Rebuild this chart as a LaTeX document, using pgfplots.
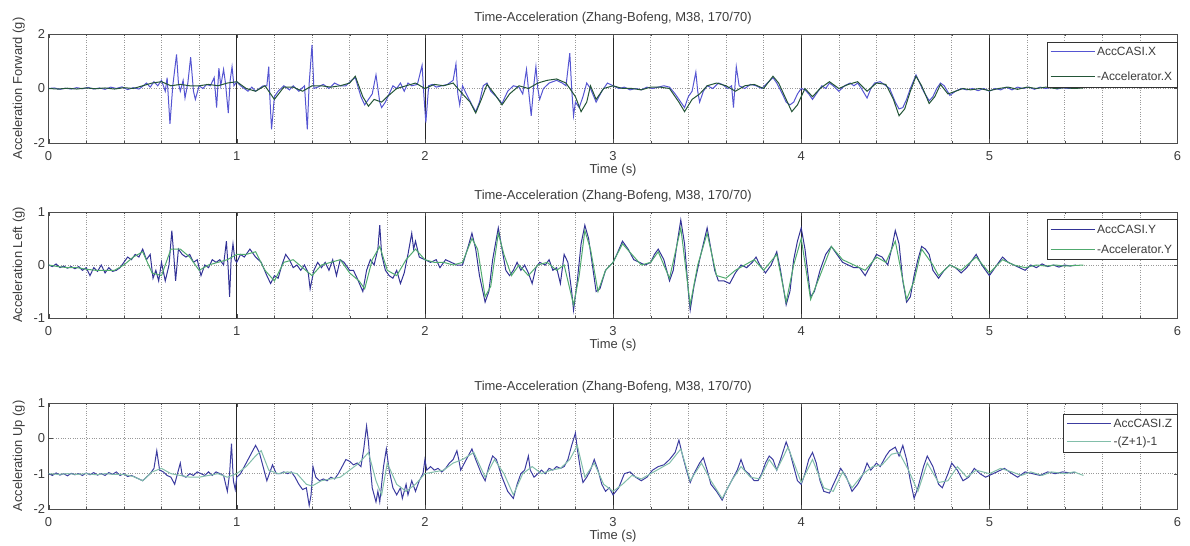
\documentclass[border=0pt]{standalone}
\usepackage{fontspec}
\setmainfont{Liberation Sans}
\usepackage{pgfplots}
\pgfplotsset{compat=1.18}

\definecolor{txt}{RGB}{60,60,60}
\definecolor{bluea}{RGB}{85,85,210}
\definecolor{greena}{RGB}{35,85,55}
\definecolor{blueb}{RGB}{50,50,150}
\definecolor{greenb}{RGB}{80,170,110}
\definecolor{bluec}{RGB}{60,60,160}
\definecolor{greenc}{RGB}{130,190,170}

\pgfplotsset{
  panel/.style={
    scale only axis,
    width=1129bp, height=107bp,
    anchor=north west,
    xmin=0, xmax=6,
    xtick={0,1,2,3,4,5,6},
    minor x tick num=4,
    grid=both,
    major x grid style={black!85, line width=0.6bp},
    minor x grid style={black!40, dotted, line width=0.6bp},
    major y grid style={black!40, dotted, line width=0.6bp},
    axis line style={black!70, line width=0.8bp},
    tick style={black!70},
    tick align=inside,
    major tick length=4bp, minor tick length=2bp,
    font=\fontsize{13}{15}\selectfont\color{txt},
    tick label style={font=\fontsize{13}{15}\selectfont\color{txt}},
    xticklabel style={yshift=-5bp},
    /pgf/number format/assume math mode=true,
    title={Time-Acceleration (Zhang-Bofeng, M38, 170/70)},
    title style={yshift=0bp, font=\fontsize{13}{15}\selectfont\color{txt}},
    xlabel={Time (s)},
    xlabel style={yshift=3bp},
    ylabel style={yshift=2bp},
    legend style={at={(1,0.92)}, anchor=north east, draw=black!80, line width=0.8bp,
      font=\fontsize{12}{14}\selectfont\color{txt}, inner sep=3bp, row sep=5bp,
      cells={anchor=west}},
    legend image code/.code={\draw[#1, line width=0.9bp] (0bp,0bp) -- (44bp,0bp);},
    every axis plot/.append style={line width=1bp},
  }
}

\begin{document}
\begin{tikzpicture}
\path[use as bounding box] (0,0) rectangle (1190bp,-546bp);

% ---------- Forward ----------
\begin{axis}[panel, at={(48.6bp,-34bp)}, height=109bp,
  ymin=-2, ymax=2, ytick={-2,0,2},
  ylabel={Acceleration Forward (g)},
  legend style={row sep=11bp, at={(1,0.93)}}]
\addplot[bluea] coordinates {
(0,0)(0.03,0.02)(0.06,-0.03)(0.09,0.01)(0.12,-0.02)(0.15,0.03)(0.18,-0.01)(0.21,0.04)(0.24,-0.02)(0.27,0.02)(0.3,-0.03)(0.33,0.05)(0.36,0.0)(0.39,0.06)(0.42,-0.04)(0.45,0.03)(0.48,-0.02)(0.5,0.08)(0.52,0.2)(0.54,0.05)(0.56,0.25)(0.58,0.1)(0.6,0.3)(0.62,-0.1)(0.63,0.4)(0.645,-1.3)(0.66,0.1)(0.68,1.25)(0.69,0.2)(0.7,-0.1)(0.715,0.3)(0.725,-0.35)(0.74,0.2)(0.755,1.15)(0.77,-0.1)(0.78,-0.4)(0.8,0.1)(0.82,0.0)(0.84,0.15)(0.86,0.1)(0.88,0.4)(0.893,-0.7)(0.905,0.75)(0.915,0.1)(0.93,0.7)(0.94,0.2)(0.955,-0.9)(0.965,0.3)(0.975,0.8)(0.985,0.1)(1.0,0.25)(1.02,0.1)(1.04,0.0)(1.06,-0.1)(1.08,0.05)(1.1,-0.1)(1.12,0.0)(1.14,0.1)(1.16,0.1)(1.17,0.8)(1.175,-0.2)(1.185,-1.5)(1.2,-0.3)(1.22,-0.1)(1.25,0.1)(1.28,-0.05)(1.3,0.1)(1.33,-0.1)(1.36,0.1)(1.375,-1.5)(1.385,0.2)(1.4,1.6)(1.41,0.0)(1.43,0.05)(1.46,0.15)(1.49,0.0)(1.52,0.2)(1.55,0.1)(1.58,0.1)(1.61,0.3)(1.63,0.4)(1.66,-0.3)(1.68,-0.6)(1.7,-0.4)(1.72,-0.2)(1.74,0.5)(1.76,-0.5)(1.77,-0.7)(1.79,-0.5)(1.81,-0.2)(1.83,0.1)(1.85,0.0)(1.87,0.2)(1.89,-0.1)(1.91,0.2)(1.93,0.1)(1.96,0.15)(1.985,0.85)(1.995,-0.3)(2.005,-1.25)(2.02,0.1)(2.04,0.15)(2.06,0.05)(2.09,0.1)(2.12,0.15)(2.15,0.3)(2.165,0.9)(2.175,-0.2)(2.185,-0.6)(2.2,0.1)(2.22,-0.2)(2.25,-0.6)(2.27,-0.85)(2.29,-0.5)(2.31,0.1)(2.33,0.2)(2.35,-0.1)(2.38,-0.3)(2.41,-0.55)(2.44,-0.1)(2.47,0.1)(2.5,0.05)(2.52,-0.2)(2.54,0.7)(2.55,0.0)(2.565,-1.0)(2.58,0.2)(2.59,0.8)(2.6,0.0)(2.61,-0.4)(2.63,0.0)(2.66,0.2)(2.7,0.3)(2.73,0.2)(2.75,0.1)(2.77,1.3)(2.78,0.0)(2.79,-1.0)(2.8,-0.5)(2.82,-0.7)(2.84,-0.3)(2.86,0.2)(2.88,0.0)(2.91,-0.5)(2.94,-0.1)(2.97,0.2)(3.0,0.1)(3.03,0.0)(3.06,0.05)(3.09,-0.05)(3.12,0.0)(3.15,-0.05)(3.18,0.05)(3.21,0.0)(3.24,0.05)(3.27,0.1)(3.3,0.05)(3.33,-0.2)(3.36,-0.5)(3.38,-0.7)(3.4,-0.3)(3.42,-0.1)(3.44,0.6)(3.45,-0.1)(3.46,-0.5)(3.48,-0.1)(3.5,0.1)(3.53,0.0)(3.56,0.2)(3.58,0.15)(3.61,0.0)(3.63,0.1)(3.64,-0.7)(3.655,0.8)(3.67,0.1)(3.7,0.0)(3.73,0.15)(3.76,0.1)(3.79,0.0)(3.82,0.2)(3.85,0.4)(3.87,0.2)(3.9,-0.2)(3.92,-0.5)(3.94,-0.6)(3.96,-0.5)(3.98,-0.2)(4.0,0.0)(4.02,-0.05)(4.04,-0.2)(4.06,-0.4)(4.08,-0.2)(4.11,0.1)(4.13,0.0)(4.15,0.2)(4.17,0.1)(4.2,-0.1)(4.23,0.1)(4.26,0.2)(4.28,0.1)(4.3,0.2)(4.32,0.0)(4.35,-0.35)(4.37,0.0)(4.39,0.2)(4.42,0.25)(4.45,0.1)(4.47,0.0)(4.5,-0.5)(4.52,-0.75)(4.54,-0.7)(4.56,-0.4)(4.58,0.0)(4.61,0.5)(4.63,0.2)(4.65,-0.1)(4.68,-0.45)(4.7,-0.3)(4.72,0.0)(4.74,0.2)(4.76,0.1)(4.79,-0.25)(4.82,-0.1)(4.85,0.0)(4.88,-0.05)(4.91,0.0)(4.94,-0.08)(4.97,0.0)(5.0,-0.1)(5.03,0.0)(5.06,-0.05)(5.09,0.05)(5.12,-0.05)(5.15,0.05)(5.18,0.0)(5.21,0.05)(5.24,-0.03)(5.27,0.05)(5.3,0.0)(5.33,0.04)(5.36,-0.02)(5.39,0.03)(5.42,0.0)(5.45,0.02)
};
\addlegendentry{AccCASI.X}
\addplot[greena] coordinates {
(0,0)(0.05,-0.02)(0.1,0.01)(0.15,-0.02)(0.2,0.02)(0.25,-0.01)(0.3,0.02)(0.35,-0.02)(0.4,0.03)(0.45,0.0)(0.5,0.1)(0.55,0.2)(0.6,0.25)(0.65,0.1)(0.7,0.15)(0.75,0.1)(0.8,0.1)(0.85,0.15)(0.9,0.1)(0.95,0.2)(1.0,0.25)(1.05,0.0)(1.1,-0.1)(1.15,0.1)(1.2,-0.4)(1.25,0.05)(1.3,0.05)(1.35,-0.1)(1.4,0.1)(1.45,0.1)(1.5,0.05)(1.55,0.1)(1.6,0.2)(1.63,0.45)(1.67,-0.3)(1.7,-0.65)(1.73,-0.4)(1.77,-0.5)(1.8,-0.3)(1.85,0.0)(1.9,0.1)(1.95,0.2)(2.0,0.0)(2.05,0.15)(2.1,0.1)(2.15,0.2)(2.2,-0.2)(2.24,-0.5)(2.27,-0.9)(2.3,-0.4)(2.33,0.15)(2.37,-0.2)(2.41,-0.6)(2.45,-0.2)(2.5,0.1)(2.55,0.0)(2.6,0.2)(2.65,0.3)(2.7,0.35)(2.75,0.2)(2.8,-0.3)(2.83,-0.85)(2.86,-0.5)(2.88,0.1)(2.91,-0.4)(2.95,0.0)(3.0,0.1)(3.05,0.0)(3.1,0.0)(3.15,-0.05)(3.2,0.05)(3.25,0.05)(3.3,0.0)(3.35,-0.5)(3.38,-0.85)(3.42,-0.4)(3.46,-0.2)(3.5,0.1)(3.55,0.2)(3.6,0.1)(3.65,-0.1)(3.7,0.1)(3.75,0.15)(3.8,0.0)(3.85,0.45)(3.88,0.2)(3.92,-0.4)(3.95,-0.85)(3.98,-0.6)(4.02,0.0)(4.06,-0.3)(4.1,0.0)(4.15,0.25)(4.2,0.0)(4.25,0.15)(4.3,0.25)(4.35,-0.1)(4.4,0.2)(4.45,0.15)(4.49,-0.4)(4.52,-1.0)(4.55,-0.75)(4.58,-0.1)(4.61,0.45)(4.64,0.1)(4.68,-0.55)(4.71,-0.3)(4.74,0.15)(4.78,-0.2)(4.82,-0.1)(4.86,0.0)(4.9,-0.05)(4.95,0.0)(5.0,-0.08)(5.05,0.0)(5.1,0.05)(5.15,-0.03)(5.2,0.05)(5.25,0.0)(5.3,0.05)(5.35,0.0)(5.4,0.03)(5.45,0.0)(5.5,0.02)
};
\addlegendentry{-Accelerator.X}
\end{axis}

% ---------- Left ----------
\begin{axis}[panel, at={(48.6bp,-212bp)}, height=106bp,
  ymin=-1, ymax=1, ytick={-1,0,1},
  ylabel={Acceleration Left (g)},
  legend style={row sep=6bp, at={(1,0.93)}}]
\addplot[blueb] coordinates {
(0,0)(0.02,-0.03)(0.04,0.02)(0.06,-0.05)(0.08,-0.02)(0.1,-0.06)(0.12,-0.03)(0.14,-0.07)(0.16,-0.03)(0.18,-0.1)(0.2,-0.05)(0.22,-0.2)(0.24,-0.05)(0.26,-0.12)(0.28,0.0)(0.3,-0.15)(0.32,-0.05)(0.34,-0.12)(0.36,-0.1)(0.38,-0.05)(0.4,0.05)(0.42,0.15)(0.44,0.1)(0.46,0.2)(0.48,0.15)(0.5,0.3)(0.52,0.1)(0.54,0.2)(0.555,-0.25)(0.57,-0.1)(0.585,-0.3)(0.6,0.05)(0.62,-0.3)(0.64,0.0)(0.655,0.65)(0.665,0.2)(0.675,-0.3)(0.69,0.3)(0.71,0.2)(0.73,0.15)(0.75,0.2)(0.77,0.05)(0.79,0.1)(0.81,-0.2)(0.83,0.0)(0.85,-0.05)(0.87,0.1)(0.89,0.05)(0.91,0.1)(0.93,0.0)(0.945,0.45)(0.955,-0.1)(0.962,-0.6)(0.97,0.1)(0.98,0.4)(0.99,0.1)(1.0,0.05)(1.02,0.2)(1.04,0.15)(1.07,0.3)(1.1,0.15)(1.13,0.05)(1.16,-0.2)(1.18,-0.35)(1.2,-0.2)(1.22,-0.25)(1.24,0.0)(1.26,0.2)(1.28,0.1)(1.3,-0.05)(1.32,0.0)(1.34,-0.1)(1.36,0.0)(1.38,-0.15)(1.39,-0.45)(1.41,-0.1)(1.43,0.05)(1.45,-0.05)(1.47,0.05)(1.49,-0.1)(1.51,0.1)(1.53,-0.2)(1.55,0.1)(1.57,0.05)(1.6,-0.1)(1.62,-0.1)(1.64,-0.25)(1.67,-0.5)(1.69,-0.1)(1.71,0.1)(1.73,0.0)(1.75,0.3)(1.76,0.75)(1.77,0.2)(1.79,-0.1)(1.81,-0.2)(1.83,-0.25)(1.85,-0.1)(1.87,-0.35)(1.89,-0.15)(1.91,0.2)(1.93,0.6)(1.94,0.3)(1.95,0.45)(1.97,0.15)(2.0,0.1)(2.03,0.05)(2.06,0.1)(2.08,-0.05)(2.11,0.1)(2.14,0.05)(2.17,0.0)(2.2,0.0)(2.23,0.35)(2.25,0.6)(2.27,0.3)(2.29,-0.2)(2.32,-0.7)(2.34,-0.5)(2.36,0.1)(2.39,0.7)(2.41,0.3)(2.43,-0.1)(2.45,-0.2)(2.47,-0.1)(2.49,0.05)(2.51,-0.1)(2.53,0.0)(2.55,-0.15)(2.57,-0.35)(2.59,-0.05)(2.61,0.05)(2.64,0.0)(2.66,0.1)(2.68,-0.1)(2.7,-0.05)(2.72,-0.35)(2.74,0.2)(2.76,0.05)(2.78,-0.5)(2.79,-0.85)(2.81,-0.3)(2.83,0.4)(2.85,0.75)(2.87,0.5)(2.89,0.0)(2.91,-0.5)(2.93,-0.45)(2.96,-0.1)(3.0,0.05)(3.02,0.2)(3.05,0.45)(3.08,0.3)(3.11,0.1)(3.14,0.05)(3.17,0.0)(3.2,0.05)(3.22,0.2)(3.24,0.3)(3.27,0.1)(3.3,-0.3)(3.32,-0.1)(3.34,0.4)(3.36,0.85)(3.38,0.4)(3.4,-0.5)(3.41,-0.85)(3.43,-0.4)(3.46,0.1)(3.48,0.4)(3.5,0.7)(3.52,0.3)(3.54,-0.1)(3.56,-0.3)(3.59,-0.3)(3.62,-0.35)(3.65,-0.15)(3.68,0.0)(3.71,-0.05)(3.74,0.05)(3.76,0.15)(3.78,0.0)(3.81,-0.15)(3.84,0.0)(3.87,0.25)(3.89,-0.1)(3.92,-0.75)(3.94,-0.5)(3.96,0.1)(3.98,0.45)(4.0,0.7)(4.02,0.3)(4.05,-0.6)(4.07,-0.5)(4.1,-0.1)(4.13,0.2)(4.16,0.35)(4.19,0.2)(4.22,0.05)(4.25,0.0)(4.28,-0.05)(4.31,-0.05)(4.34,-0.2)(4.37,0.0)(4.4,0.2)(4.43,0.15)(4.46,0.0)(4.48,0.3)(4.5,0.65)(4.52,0.4)(4.54,-0.3)(4.56,-0.7)(4.58,-0.6)(4.6,-0.2)(4.62,0.1)(4.64,0.35)(4.66,0.3)(4.68,0.2)(4.7,-0.1)(4.73,-0.25)(4.76,-0.1)(4.79,0.0)(4.82,-0.05)(4.85,-0.15)(4.88,-0.05)(4.91,0.1)(4.93,0.2)(4.96,0.0)(5.0,-0.2)(5.03,-0.05)(5.07,0.15)(5.1,0.05)(5.13,0.0)(5.16,-0.05)(5.19,-0.1)(5.22,0.0)(5.25,-0.05)(5.28,0.02)(5.31,-0.03)(5.34,0.0)(5.37,-0.04)(5.4,0.0)(5.43,-0.02)(5.46,0.0)
};
\addlegendentry{AccCASI.Y}
\addplot[greenb] coordinates {
(0,0)(0.05,-0.03)(0.1,-0.05)(0.15,-0.05)(0.2,-0.08)(0.25,-0.1)(0.3,-0.1)(0.35,-0.1)(0.4,0.0)(0.45,0.15)(0.5,0.25)(0.55,-0.15)(0.6,-0.2)(0.65,0.3)(0.7,0.3)(0.75,0.15)(0.8,-0.1)(0.85,0.0)(0.9,0.05)(0.95,0.1)(1.0,0.2)(1.05,0.2)(1.1,0.25)(1.15,-0.1)(1.2,-0.3)(1.25,0.05)(1.3,0.1)(1.35,-0.05)(1.4,-0.2)(1.45,0.0)(1.5,0.05)(1.55,0.1)(1.6,-0.15)(1.65,-0.3)(1.68,-0.45)(1.72,0.1)(1.76,0.35)(1.8,-0.1)(1.85,-0.2)(1.9,0.1)(1.95,0.3)(2.0,0.1)(2.05,0.05)(2.1,0.05)(2.15,0.0)(2.2,0.05)(2.25,0.5)(2.28,0.3)(2.32,-0.6)(2.35,-0.4)(2.39,0.6)(2.42,0.2)(2.46,-0.2)(2.5,0.0)(2.55,-0.2)(2.6,0.0)(2.65,0.05)(2.7,-0.1)(2.74,0.0)(2.79,-0.75)(2.82,-0.2)(2.85,0.65)(2.88,0.3)(2.92,-0.5)(2.96,-0.1)(3.0,0.05)(3.05,0.4)(3.1,0.2)(3.15,0.0)(3.2,0.05)(3.24,0.25)(3.3,-0.25)(3.36,0.7)(3.41,-0.75)(3.45,0.0)(3.5,0.6)(3.55,-0.2)(3.6,-0.25)(3.65,-0.1)(3.7,0.0)(3.75,0.1)(3.8,-0.1)(3.87,0.2)(3.92,-0.7)(3.96,0.0)(4.0,0.5)(4.05,-0.65)(4.1,-0.2)(4.16,0.35)(4.22,0.1)(4.28,0.0)(4.34,-0.1)(4.4,0.15)(4.45,0.05)(4.5,0.45)(4.56,-0.65)(4.6,-0.3)(4.64,0.3)(4.7,0.0)(4.73,-0.2)(4.79,0.0)(4.85,-0.1)(4.93,0.15)(5.0,-0.15)(5.07,0.1)(5.13,0.0)(5.19,-0.05)(5.25,0.0)(5.3,-0.02)(5.35,0.0)(5.4,-0.02)(5.5,0.0)
};
\addlegendentry{-Accelerator.Y}
\end{axis}

% ---------- Up ----------
\begin{axis}[panel, at={(48.6bp,-403bp)}, height=106bp,
  ymin=-2, ymax=1, ytick={-2,-1,0,1},
  ylabel={Acceleration Up (g)},
  legend style={row sep=4bp, at={(1,0.9)}}]
\addplot[bluec] coordinates {
(0,-1.0)(0.02,-1.05)(0.04,-0.98)(0.06,-1.04)(0.08,-1.0)(0.1,-1.06)(0.12,-0.99)(0.14,-1.03)(0.16,-1.0)(0.18,-1.05)(0.2,-0.98)(0.22,-1.03)(0.24,-0.97)(0.26,-1.04)(0.28,-1.0)(0.3,-1.05)(0.32,-0.97)(0.34,-1.02)(0.36,-0.95)(0.38,-1.05)(0.4,-1.0)(0.42,-1.08)(0.44,-1.05)(0.46,-1.1)(0.48,-1.15)(0.5,-1.2)(0.52,-1.1)(0.54,-1.0)(0.56,-0.85)(0.575,-0.35)(0.59,-0.9)(0.61,-0.95)(0.63,-1.05)(0.65,-1.1)(0.67,-1.3)(0.685,-1.0)(0.7,-0.7)(0.71,-1.05)(0.73,-1.1)(0.75,-1.0)(0.77,-1.05)(0.79,-0.95)(0.81,-1.0)(0.83,-1.05)(0.85,-0.95)(0.87,-1.05)(0.89,-0.95)(0.91,-1.0)(0.93,-1.05)(0.95,-1.5)(0.962,-1.0)(0.972,-0.15)(0.982,-1.2)(0.992,-1.45)(1.0,-1.1)(1.02,-1.0)(1.04,-0.8)(1.06,-0.6)(1.08,-0.4)(1.1,-0.2)(1.12,-0.4)(1.14,-0.8)(1.16,-1.2)(1.18,-0.9)(1.19,-0.75)(1.21,-1.0)(1.23,-1.0)(1.25,-0.95)(1.27,-1.0)(1.29,-0.95)(1.31,-1.1)(1.33,-1.3)(1.35,-1.45)(1.37,-1.4)(1.385,-1.9)(1.395,-1.6)(1.405,-0.8)(1.42,-1.1)(1.44,-1.2)(1.46,-1.15)(1.48,-1.2)(1.5,-1.1)(1.52,-1.15)(1.54,-1.0)(1.56,-0.8)(1.58,-0.6)(1.6,-0.65)(1.62,-0.75)(1.64,-0.7)(1.66,-0.8)(1.675,-0.3)(1.69,0.35)(1.7,-0.1)(1.71,-0.8)(1.72,-1.4)(1.74,-1.8)(1.75,-1.5)(1.76,-1.8)(1.78,-0.8)(1.795,-0.3)(1.81,-0.9)(1.83,-1.4)(1.85,-1.6)(1.87,-1.4)(1.88,-1.7)(1.9,-1.3)(1.91,-1.6)(1.93,-1.2)(1.95,-1.5)(1.97,-1.2)(1.99,-1.0)(2.0,-0.6)(2.01,-0.9)(2.03,-0.8)(2.05,-0.9)(2.07,-0.85)(2.09,-0.95)(2.11,-0.85)(2.13,-0.7)(2.15,-0.6)(2.17,-0.35)(2.18,-0.6)(2.19,-0.9)(2.21,-0.7)(2.23,-0.5)(2.25,-0.3)(2.27,-0.6)(2.3,-1.0)(2.32,-1.2)(2.34,-0.8)(2.36,-0.5)(2.38,-0.6)(2.41,-1.1)(2.44,-1.5)(2.47,-1.7)(2.49,-1.3)(2.51,-1.0)(2.53,-0.9)(2.55,-0.5)(2.56,-0.9)(2.58,-1.1)(2.6,-1.0)(2.62,-0.9)(2.64,-1.0)(2.66,-0.85)(2.68,-0.9)(2.7,-0.8)(2.72,-0.85)(2.74,-0.8)(2.76,-0.6)(2.78,-0.2)(2.8,0.15)(2.81,-0.3)(2.83,-1.0)(2.84,-1.25)(2.86,-1.1)(2.88,-0.9)(2.9,-0.6)(2.92,-0.9)(2.94,-1.3)(2.96,-1.5)(2.98,-1.4)(3.0,-1.6)(3.03,-1.4)(3.06,-1.0)(3.09,-0.95)(3.12,-1.1)(3.15,-1.2)(3.18,-1.1)(3.21,-0.9)(3.24,-0.8)(3.27,-0.75)(3.3,-0.6)(3.33,-0.4)(3.35,-0.05)(3.37,-0.5)(3.39,-0.9)(3.41,-1.25)(3.43,-1.0)(3.46,-0.7)(3.48,-0.55)(3.5,-0.9)(3.52,-1.3)(3.55,-1.5)(3.58,-1.75)(3.6,-1.5)(3.62,-1.3)(3.64,-1.1)(3.66,-0.9)(3.68,-0.6)(3.7,-0.9)(3.72,-1.0)(3.75,-1.2)(3.77,-1.2)(3.79,-1.0)(3.81,-0.7)(3.83,-0.5)(3.85,-0.6)(3.87,-0.9)(3.89,-0.6)(3.92,-0.1)(3.94,-0.4)(3.96,-0.8)(3.98,-1.2)(4.0,-1.3)(4.02,-1.0)(4.04,-0.6)(4.06,-0.4)(4.08,-0.7)(4.1,-1.2)(4.12,-1.5)(4.15,-1.55)(4.18,-1.2)(4.21,-0.85)(4.24,-1.1)(4.27,-1.5)(4.3,-1.3)(4.33,-1.0)(4.35,-0.7)(4.37,-0.9)(4.4,-0.7)(4.42,-0.8)(4.45,-0.5)(4.47,-0.35)(4.5,-0.25)(4.52,-0.5)(4.54,-0.2)(4.56,-0.6)(4.58,-1.2)(4.6,-1.7)(4.62,-1.4)(4.65,-0.8)(4.67,-0.5)(4.7,-0.8)(4.73,-1.3)(4.75,-1.4)(4.78,-1.0)(4.8,-0.7)(4.83,-0.9)(4.86,-1.2)(4.89,-1.1)(4.92,-0.85)(4.95,-1.0)(4.98,-1.1)(5.0,-1.05)(5.04,-0.95)(5.08,-0.85)(5.12,-1.0)(5.15,-1.1)(5.19,-0.95)(5.23,-1.0)(5.27,-1.05)(5.31,-0.95)(5.35,-1.0)(5.39,-0.95)(5.43,-0.98)(5.46,-0.96)
};
\addlegendentry{AccCASI.Z}
\addplot[greenc] coordinates {
(0,-1.0)(0.05,-1.02)(0.1,-1.0)(0.15,-1.02)(0.2,-1.0)(0.25,-1.03)(0.3,-1.0)(0.35,-1.02)(0.4,-1.02)(0.45,-1.08)(0.5,-1.2)(0.55,-0.95)(0.6,-0.85)(0.65,-1.0)(0.7,-1.05)(0.75,-1.1)(0.8,-1.1)(0.85,-1.05)(0.9,-1.0)(0.95,-1.1)(1.0,-1.0)(1.05,-0.8)(1.1,-0.5)(1.13,-0.35)(1.17,-0.9)(1.22,-1.0)(1.27,-0.95)(1.32,-1.0)(1.37,-1.3)(1.4,-1.35)(1.45,-1.2)(1.5,-1.15)(1.55,-1.1)(1.6,-0.9)(1.65,-0.7)(1.7,-0.4)(1.74,-1.2)(1.77,-1.6)(1.8,-0.7)(1.85,-1.3)(1.9,-1.5)(1.95,-1.3)(2.0,-1.0)(2.05,-0.95)(2.1,-0.9)(2.15,-0.7)(2.2,-0.6)(2.26,-0.4)(2.32,-1.1)(2.37,-0.6)(2.42,-1.0)(2.47,-1.6)(2.52,-1.0)(2.57,-0.8)(2.62,-1.0)(2.67,-0.9)(2.72,-0.85)(2.77,-0.6)(2.81,-0.2)(2.85,-1.1)(2.9,-0.7)(2.95,-1.3)(3.0,-1.5)(3.05,-1.3)(3.1,-1.05)(3.15,-1.15)(3.2,-1.0)(3.25,-0.85)(3.3,-0.7)(3.36,-0.3)(3.41,-1.2)(3.47,-0.7)(3.52,-1.2)(3.58,-1.7)(3.63,-1.2)(3.68,-0.8)(3.73,-1.1)(3.78,-1.15)(3.83,-0.6)(3.87,-0.9)(3.93,-0.25)(4.0,-1.25)(4.06,-0.6)(4.12,-1.4)(4.17,-1.5)(4.22,-0.95)(4.27,-1.4)(4.33,-1.0)(4.38,-0.8)(4.43,-0.75)(4.48,-0.45)(4.52,-0.4)(4.57,-0.9)(4.62,-1.5)(4.67,-0.7)(4.73,-1.25)(4.78,-1.2)(4.83,-0.8)(4.88,-1.1)(4.93,-0.9)(5.0,-1.0)(5.06,-0.85)(5.12,-0.95)(5.17,-1.05)(5.22,-0.95)(5.28,-1.05)(5.33,-0.95)(5.4,-1.0)(5.45,-0.95)(5.5,-1.05)
};
\addlegendentry{-(Z+1)-1}
\end{axis}
\end{tikzpicture}
\end{document}
